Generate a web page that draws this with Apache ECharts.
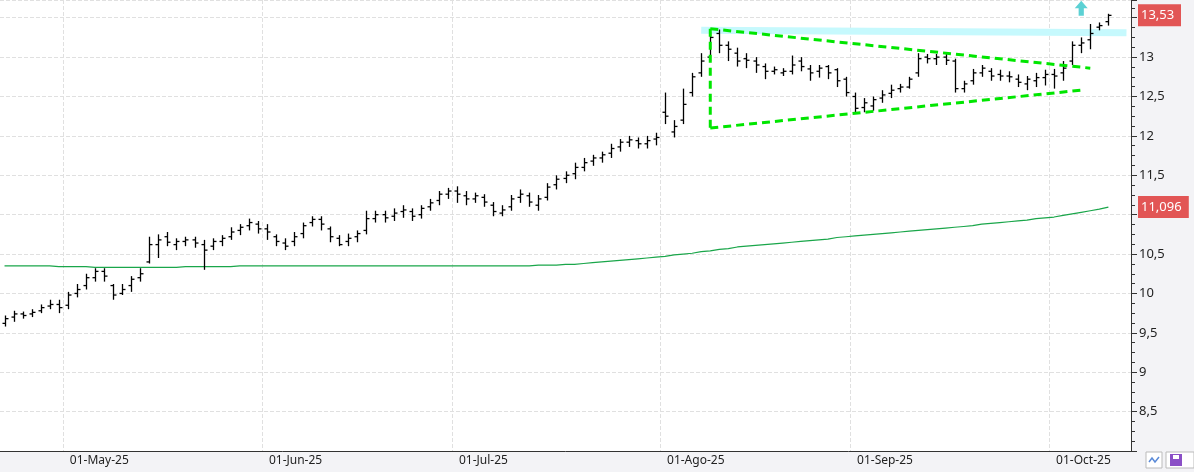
<!DOCTYPE html>
<html>
<head>
<meta charset="utf-8">
<script src="https://cdn.jsdelivr.net/npm/echarts@6/dist/echarts.min.js"></script>
<style>html,body{margin:0;padding:0;background:#fff}#chart{width:1194px;height:472px}</style>
</head>
<body>
<div id="chart"></div>
<script>
// trading days 22-Apr-25 .. 09-Oct-25, plus two empty slots on the right
var monthNames = ['Jan','Feb','Mar','Apr','May','Jun','Jul','Ago','Sep','Oct','Nov','Dec'];
var dates = [];
var d = new Date(2025, 3, 22);
while (d <= new Date(2025, 9, 13)) {
    if (d.getDay() != 0 && d.getDay() != 6) dates.push(new Date(d.getTime()));
    d.setDate(d.getDate() + 1);
}
var categories = dates.map(function (x) {
    return ('0' + x.getDate()).slice(-2) + '-' + monthNames[x.getMonth()] + '-25';
});

// [open, close, low, high]
var ohlc = [
[9.62,9.68,9.58,9.72],[9.70,9.74,9.64,9.78],[9.74,9.72,9.68,9.77],[9.74,9.76,9.70,9.80],[9.78,9.82,9.75,9.86],[9.84,9.86,9.80,9.92],[9.86,9.82,9.75,9.92],
[9.85,9.98,9.80,10.02],[10.0,10.05,9.95,10.12],[10.1,10.2,10.05,10.25],[10.2,10.28,10.15,10.32],[10.28,10.22,10.15,10.32],[10.1,9.98,9.92,10.12],[10.0,10.05,9.98,10.12],
[10.1,10.18,10.02,10.22],[10.2,10.25,10.15,10.32],[10.4,10.62,10.38,10.72],[10.62,10.68,10.45,10.75],[10.72,10.65,10.6,10.78],[10.62,10.66,10.55,10.7],[10.66,10.68,10.6,10.72],
[10.68,10.64,10.58,10.72],[10.62,10.55,10.3,10.68],[10.6,10.66,10.55,10.7],[10.66,10.7,10.6,10.74],[10.72,10.78,10.68,10.84],[10.8,10.84,10.74,10.88],[10.86,10.9,10.8,10.95],[10.88,10.82,10.76,10.92],
[10.82,10.78,10.68,10.88],[10.72,10.66,10.6,10.75],[10.64,10.6,10.55,10.7],[10.66,10.72,10.6,10.78],[10.76,10.86,10.7,10.9],[10.9,10.94,10.85,10.98],[10.94,10.88,10.8,10.98],
[10.82,10.72,10.65,10.85],[10.7,10.62,10.6,10.74],[10.66,10.7,10.6,10.76],[10.72,10.76,10.65,10.8],[10.8,10.95,10.75,11.05],[10.95,11.0,10.9,11.05],[11.0,10.96,10.9,11.05],
[10.98,11.02,10.92,11.08],[11.04,11.06,10.96,11.12],[11.04,10.98,10.92,11.08],[11.0,11.08,10.95,11.12],[11.1,11.15,11.05,11.2],[11.18,11.26,11.12,11.3],[11.26,11.3,11.2,11.34],
[11.3,11.26,11.15,11.36],[11.24,11.2,11.12,11.3],[11.2,11.24,11.15,11.28],[11.22,11.16,11.1,11.26],[11.12,11.04,10.98,11.16],[11.02,11.06,10.98,11.12],[11.1,11.2,11.05,11.25],
[11.22,11.26,11.15,11.32],[11.24,11.16,11.1,11.28],[11.12,11.2,11.05,11.25],[11.22,11.35,11.18,11.4],[11.38,11.45,11.32,11.5],[11.46,11.5,11.4,11.55],[11.52,11.6,11.45,11.66],
[11.6,11.66,11.55,11.72],[11.68,11.72,11.62,11.76],[11.72,11.76,11.66,11.8],[11.78,11.84,11.72,11.9],[11.86,11.92,11.8,11.96],[11.92,11.95,11.86,12.0],[11.94,11.9,11.84,11.98],
[11.9,11.94,11.84,12.0],[11.96,11.98,11.88,12.04],
[12.3,12.25,12.15,12.55],[12.05,12.12,11.98,12.2],[12.2,12.4,12.15,12.6],[12.55,12.75,12.5,12.8],[12.8,12.95,12.75,13.05],[13.0,13.25,12.95,13.32],[13.3,13.15,13.05,13.35],
[13.15,13.1,12.95,13.2],[13.05,12.95,12.88,13.12],[12.98,12.96,12.86,13.05],[12.95,12.9,12.8,13.0],[12.88,12.82,12.72,12.92],[12.82,12.84,12.78,12.88],[12.8,12.82,12.76,12.86],
[12.82,12.9,12.78,13.02],[12.95,12.88,12.82,13.0],[12.85,12.8,12.7,12.9],[12.82,12.86,12.74,12.9],[12.88,12.8,12.72,12.9],[12.84,12.7,12.62,12.86],[12.72,12.55,12.5,12.75],
[12.5,12.35,12.3,12.55],[12.36,12.42,12.3,12.48],[12.38,12.46,12.32,12.5],[12.48,12.52,12.42,12.58],[12.54,12.58,12.48,12.65],[12.6,12.62,12.55,12.66],[12.62,12.72,12.6,12.75],
[12.8,12.98,12.75,13.05],[13.0,12.98,12.92,13.04],[12.98,13.0,12.9,13.04],[13.0,12.96,12.9,13.05],[12.95,12.6,12.55,12.98],[12.6,12.66,12.55,12.7],[12.7,12.8,12.65,12.85],
[12.8,12.86,12.75,12.9],[12.82,12.76,12.7,12.86],[12.78,12.76,12.7,12.84],[12.76,12.75,12.68,12.82],[12.72,12.68,12.62,12.78],[12.66,12.72,12.58,12.76],[12.7,12.74,12.62,12.8],
[12.74,12.78,12.64,12.84],
[12.78,12.76,12.6,12.85],[12.8,12.86,12.7,12.95],[12.95,13.15,12.9,13.2],[13.15,13.18,13.05,13.25],[13.22,13.3,13.1,13.42],[13.38,13.4,13.34,13.44],[13.45,13.53,13.4,13.55]
];

var ma = [
10.35,10.35,10.35,10.35,10.35,10.35,10.34,10.34,10.34,10.34,10.33,10.33,10.33,10.33,10.33,10.33,10.33,10.33,10.33,10.33,
10.34,10.34,10.34,10.34,10.34,10.34,10.35,10.35,10.35,10.35,10.35,10.35,10.35,10.35,10.35,10.35,10.35,10.35,10.35,10.35,
10.35,10.35,10.35,10.35,10.35,10.35,10.35,10.35,10.35,10.35,10.35,10.35,10.35,10.35,10.35,10.35,10.35,10.35,10.35,10.36,
10.36,10.36,10.37,10.37,10.38,10.39,10.40,10.41,10.42,10.43,10.44,10.45,10.46,10.47,10.49,10.50,10.51,10.53,10.54,10.56,
10.57,10.59,10.60,10.61,10.62,10.63,10.64,10.65,10.66,10.67,10.68,10.69,10.71,10.72,10.73,10.74,10.75,10.76,10.77,10.78,
10.79,10.80,10.81,10.82,10.83,10.84,10.85,10.86,10.88,10.89,10.90,10.91,10.92,10.93,10.95,10.96,10.97,10.99,11.01,11.03,
11.05,11.07,11.096
];

var lastPrice = 13.53;
var lastMa = 11.096;
var triUpper = [[78, 13.36], [119.5, 12.86]];
var triLower = [[78, 12.1], [118.5, 12.58]];
var triSide = [[78, 13.36], [78, 12.1]];
var band = [[77.3, 13.34], [123.5, 13.31]];
var arrowAt = [[118.7, 13.62]];
var hiddenLabels = [8, 11, 13.5];   // covered by the price tags / off scale

function isMonthStart(i) {
    return i > 0 && dates[i].getMonth() != dates[i - 1].getMonth();
}
function fmt(v) { return String(v).replace('.', ','); }

var chart = echarts.init(document.getElementById('chart'));
var dash = {type: 'dashed', color: '#e0e0e0', width: 1};
var triStyle = {color: '#00e600', width: 3, type: [8, 5]};

var option = {
    animation: false,
    textStyle: {fontFamily: 'Segoe UI, Noto Sans, sans-serif'},
    grid: {left: 0, right: 63, top: -7, bottom: 21},
    xAxis: {
        type: 'category',
        data: categories,
        boundaryGap: true,
        axisLine: {lineStyle: {color: '#333'}},
        axisTick: {interval: function (i) { return isMonthStart(i); }, length: 8, lineStyle: {color: '#333'}, alignWithLabel: true},
        axisLabel: {interval: function (i) { return isMonthStart(i); }, align: 'left', color: '#222', fontSize: 12, margin: 4, padding: [0, 0, 0, 2],
            formatter: function (v, i) { return '01-' + monthNames[dates[i].getMonth()] + '-25'; }},
        splitLine: {show: true, interval: function (i) { return isMonthStart(i); }, lineStyle: dash}
    },
    yAxis: {
        type: 'value',
        position: 'right',
        min: 8.0, max: 13.725,
        interval: 0.5,
        axisLine: {show: true, lineStyle: {color: '#333'}},
        axisTick: {show: true, length: 6, lineStyle: {color: '#333'}},
        minorTick: {show: true, splitNumber: 4, length: 4, lineStyle: {color: '#333'}},
        axisLabel: {color: '#222', fontSize: 13, margin: 8,
            formatter: function (v) { return (v > 13.6 || hiddenLabels.indexOf(v) >= 0) ? '' : fmt(v); }},
        splitLine: {lineStyle: dash}
    },
    series: [
        {
            type: 'line', data: ma, symbol: 'none', z: 2,
            lineStyle: {color: '#1aa64a', width: 1.2}
        },
        {
            type: 'line', data: band, symbol: 'none', z: 1,
            lineStyle: {color: '#c6f9fd', width: 7}
        },
        {
            type: 'custom', z: 5,
            data: ohlc,
            renderItem: function (params, api) {
                var i = params.dataIndex;
                var o = api.coord([i, api.value(0)]);
                var c = api.coord([i, api.value(1)]);
                var l = api.coord([i, api.value(2)]);
                var h = api.coord([i, api.value(3)]);
                var x = Math.round(o[0]) + 0.5;
                var st = {stroke: '#000', lineWidth: 1.3};
                return {type: 'group', children: [
                    {type: 'line', shape: {x1: x, y1: h[1], x2: x, y2: l[1]}, style: st},
                    {type: 'line', shape: {x1: x - 3, y1: o[1], x2: x, y2: o[1]}, style: st},
                    {type: 'line', shape: {x1: x, y1: c[1], x2: x + 3, y2: c[1]}, style: st}
                ]};
            },
            encode: {x: -1, y: [0, 1, 2, 3]}
        },
        {type: 'line', data: triUpper, symbol: 'none', z: 6, lineStyle: triStyle},
        {type: 'line', data: triLower, symbol: 'none', z: 6, lineStyle: triStyle},
        {type: 'line', data: triSide, symbol: 'none', z: 6, lineStyle: triStyle},
        {
            type: 'scatter', data: arrowAt, z: 7,
            symbol: 'path://M5,0 L10,6 L7,6 L7,12 L3,12 L3,6 L0,6 Z',
            symbolSize: [13, 15],
            itemStyle: {color: '#33c6c9'}
        }
    ]
};
chart.setOption(option);

var yP = chart.convertToPixel({yAxisIndex: 0}, lastPrice);
var yM = chart.convertToPixel({yAxisIndex: 0}, lastMa);
function tag(y, text) {
    return {type: 'group', x: 1138, y: y - 11, z: 100, zlevel: 1, children: [
        {type: 'rect', shape: {x: 0, y: 0, width: text.length * 7.8 + 4, height: 22}, style: {fill: '#e25555'}},
        {type: 'text', x: 3, y: 11, style: {text: text, fill: '#fff', font: '13px Segoe UI, Noto Sans, sans-serif', verticalAlign: 'middle'}}
    ]};
}
chart.setOption({graphic: [
    {type: 'rect', z: -10, silent: true, shape: {x: 1131, y: 0, width: 63, height: 472}, style: {fill: '#f3f3f6'}},
    {type: 'rect', z: -10, silent: true, shape: {x: 0, y: 451, width: 1194, height: 21}, style: {fill: '#f3f3f6'}},
    tag(yP, fmt(lastPrice)),
    tag(yM, fmt(lastMa)),
    {type: 'rect', z: 100, zlevel: 1, shape: {x: 1146, y: 452, width: 16, height: 16}, style: {fill: '#fff', stroke: '#bbb'}},
    {type: 'polyline', z: 101, zlevel: 1, shape: {points: [[1149, 462], [1152, 458], [1155, 462], [1159, 457]]}, style: {stroke: '#5a8ad8', lineWidth: 1.5, fill: null}},
    {type: 'rect', z: 100, zlevel: 1, shape: {x: 1166, y: 452, width: 28, height: 16}, style: {fill: '#fff', stroke: '#bbb'}},
    {type: 'rect', z: 101, zlevel: 1, shape: {x: 1170, y: 454, width: 12, height: 12}, style: {fill: '#8a4fc6'}},
    {type: 'rect', z: 102, zlevel: 1, shape: {x: 1173, y: 455, width: 6, height: 4}, style: {fill: '#fff'}}
]});
</script>
</body>
</html>
